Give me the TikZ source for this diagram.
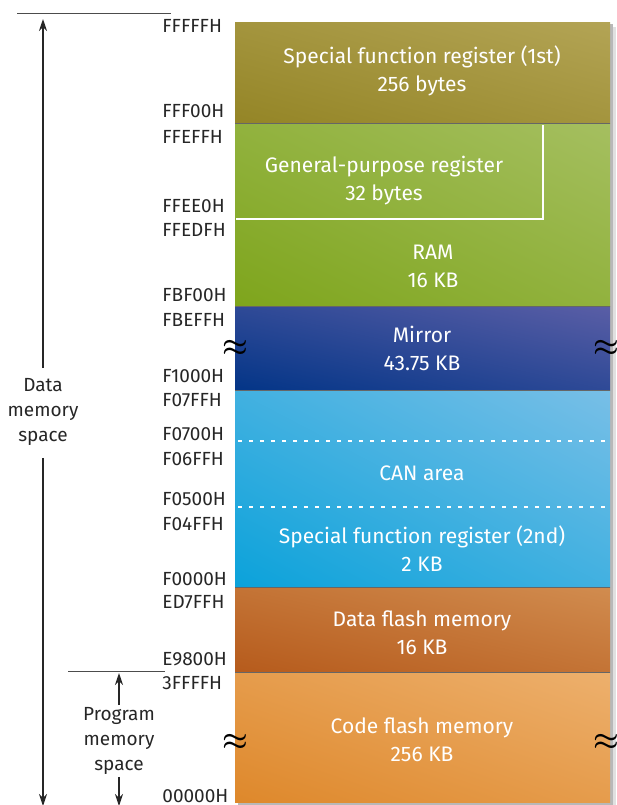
\documentclass[tikz,border=0pt]{standalone}
\usepackage{fontspec}
\setmainfont{Fira Sans}
\usetikzlibrary{arrows.meta,shadings}

\begin{document}
\begin{tikzpicture}[x=0.5pt,y=-0.5pt,font=\fontsize{9.5}{12}\selectfont,
  addr/.style={anchor=west,inner sep=0pt,text=black!85},
  blocktext/.style={align=center,text=white,font=\fontsize{10.5}{14}\selectfont},
  sidetext/.style={align=center,inner sep=1pt,text=black!85,font=\fontsize{9.5}{12.5}\selectfont},
  brk/.style={inner sep=0pt,font=\fontsize{15}{15}\selectfont\boldmath},
  spacearrow/.style={-{Stealth[length=6pt,width=4pt]},black!85,line width=0.6pt}]
\definecolor{sfrdark}{HTML}{948526}
\definecolor{sfrlight}{HTML}{B3A455}
\definecolor{ramdark}{HTML}{7EA51C}
\definecolor{ramlight}{HTML}{A5BF60}
\definecolor{mirrordark}{HTML}{033587}
\definecolor{mirrorlight}{HTML}{5A5EA6}
\definecolor{candark}{HTML}{0BA2DA}
\definecolor{canlight}{HTML}{78BFE7}
\definecolor{dfdark}{HTML}{B65B1C}
\definecolor{dflight}{HTML}{D18C4F}
\definecolor{cfdark}{HTML}{DE882B}
\definecolor{cflight}{HTML}{EDB06D}
\useasboundingbox (0,0) rectangle (617,805);
% shadow
\fill[black!12] (241,27) rectangle (616,808);
\fill[black!28] (238,24) rectangle (613,805);
% memory blocks
\shade[lower left=sfrdark,upper right=sfrlight,upper left=sfrdark!50!sfrlight,lower right=sfrdark!50!sfrlight] (235,22) rectangle (610,123);
\shade[lower left=ramdark,upper right=ramlight,upper left=ramdark!50!ramlight,lower right=ramdark!50!ramlight] (235,123) rectangle (610,306);
\shade[lower left=mirrordark,upper right=mirrorlight,upper left=mirrordark!50!mirrorlight,lower right=mirrordark!50!mirrorlight] (235,306) rectangle (610,390);
\shade[lower left=candark,upper right=canlight,upper left=candark!50!canlight,lower right=candark!50!canlight] (235,390) rectangle (610,587);
\shade[lower left=dfdark,upper right=dflight,upper left=dfdark!50!dflight,lower right=dfdark!50!dflight] (235,587) rectangle (610,672);
\shade[lower left=cfdark,upper right=cflight,upper left=cfdark!50!cflight,lower right=cfdark!50!cflight] (235,672) rectangle (610,802);
\draw[black!60,line width=0.5pt] (235,123) -- (610,123) (235,306) -- (610,306)
  (235,390) -- (610,390) (235,587) -- (610,587) (235,672) -- (610,672);
\draw[white,line width=0.8pt] (236,219) -- (543,219) -- (543,125);
\draw[white,line width=0.6pt,dash pattern=on 2pt off 3.5pt] (238,441) -- (610,441) (238,507) -- (610,507);
% block texts
\node[blocktext] (sfrone) at (422,71) {Special function register (1st)\\256 bytes};
\node[blocktext] (gpr) at (384,181) {General-purpose register\\32 bytes};
\node[blocktext] (ram) at (433,266) {RAM\\16 KB};
\node[blocktext] (mirror) at (422,348) {Mirror\\43.75 KB};
\node[blocktext] (can) at (422,473) {CAN area};
\node[blocktext] (sfrtwo) at (422,549) {Special function register (2nd)\\2 KB};
\node[blocktext] (dataflash) at (422,633) {Data flash memory\\16 KB};
\node[blocktext] (codeflash) at (422,740) {Code flash memory\\256 KB};
% breaks
\node[brk] (brkmirrorl) at (235,348) {$\approx$};
\node[brk] (brkmirrorr) at (606,348) {$\approx$};
\node[brk] (brkcodel) at (235,742) {$\approx$};
\node[brk] (brkcoder) at (606,742) {$\approx$};
% addresses
\node[addr] (aFFFFF) at (162,26) {FFFFFH};
\node[addr] (aFFF00) at (162,111) {FFF00H};
\node[addr] (aFFEFF) at (162,137) {FFEFFH};
\node[addr] (aFFEE0) at (162,206) {FFEE0H};
\node[addr] (aFFEDF) at (162,230) {FFEDFH};
\node[addr] (aFBF00) at (162,295) {FBF00H};
\node[addr] (aFBEFF) at (162,320) {FBEFFH};
\node[addr] (aF1000) at (162,376) {F1000H};
\node[addr] (aF07FF) at (162,400) {F07FFH};
\node[addr] (aF0700) at (162,434) {F0700H};
\node[addr] (aF06FF) at (162,459) {F06FFH};
\node[addr] (aF0500) at (162,499) {F0500H};
\node[addr] (aF04FF) at (162,524) {F04FFH};
\node[addr] (aF0000) at (162,579) {F0000H};
\node[addr] (aED7FF) at (162,602) {ED7FFH};
\node[addr] (aE9800) at (162,659) {E9800H};
\node[addr] (a3FFFF) at (162,683) {3FFFFH};
\node[addr] (a00000) at (162,796) {00000H};
% memory spaces
\coordinate (datatopl) at (17,13);
\coordinate (datatopr) at (171,13);
\coordinate (datatop) at (43,19);
\coordinate (databot) at (43,806);
\node[sidetext] (dataspace) at (43,412) {Data\\memory\\space};
\draw[black!70,line width=0.5pt] (datatopl) -- (datatopr);
\draw[spacearrow] (dataspace.north) ++(0,-8) -- (datatop);
\draw[spacearrow] (dataspace.south) ++(0,10) -- (databot);
\coordinate (progtopl) at (68,671);
\coordinate (progtopr) at (165,671);
\coordinate (progtop) at (119,673);
\coordinate (progbot) at (119,806);
\node[sidetext] (progspace) at (119,741) {Program\\memory\\space};
\draw[black!70,line width=0.5pt] (progtopl) -- (progtopr);
\draw[spacearrow] (progspace.north) -- (progtop);
\draw[spacearrow] (progspace.south) -- (progbot);
\end{tikzpicture}
\end{document}
